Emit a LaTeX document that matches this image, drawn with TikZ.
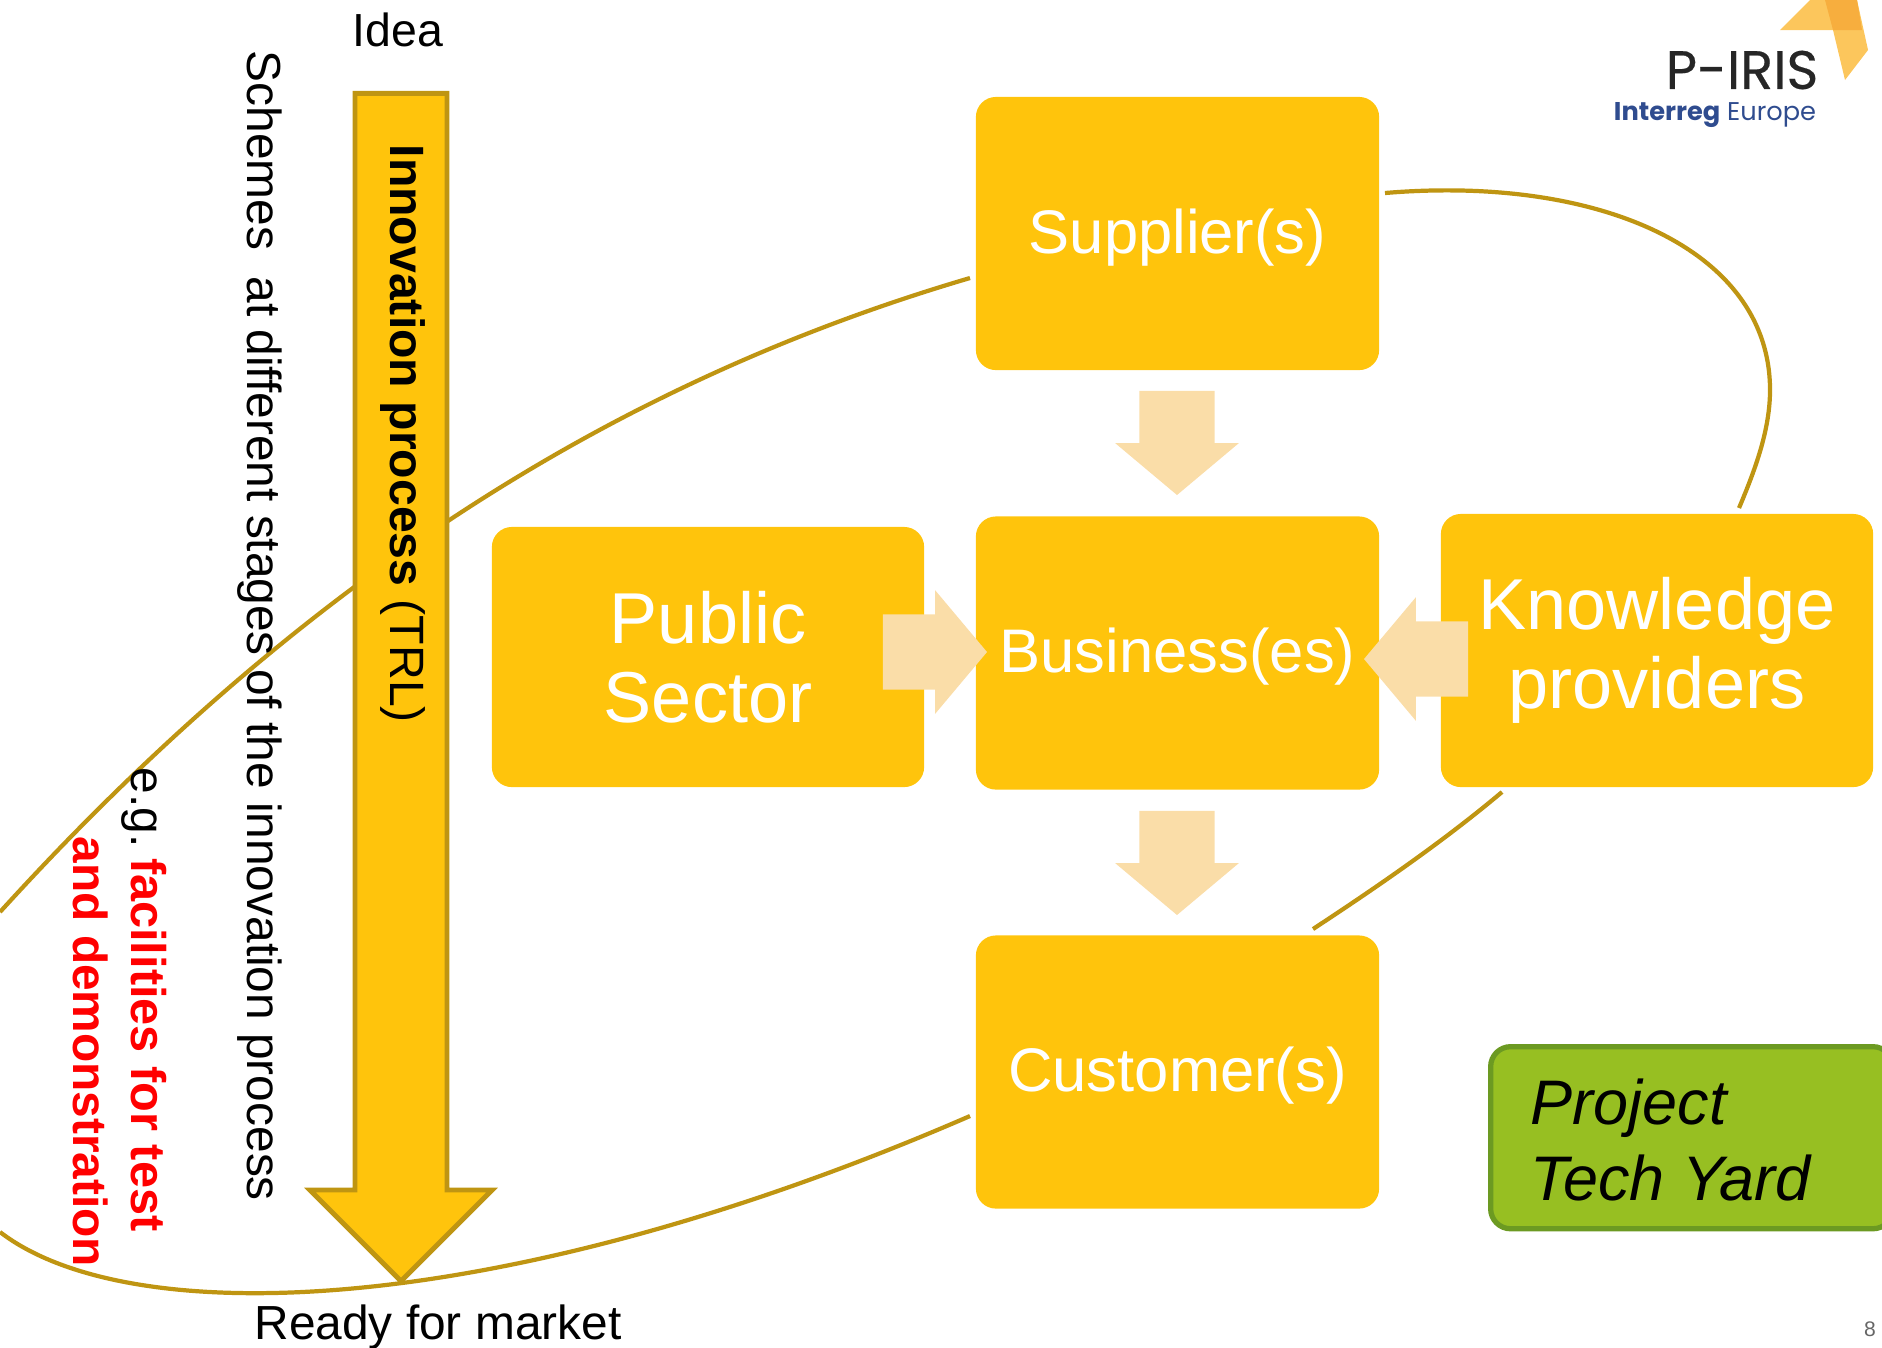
\documentclass[tikz,border=0pt]{standalone}
\usepackage{fontspec}
\setmainfont{Liberation Sans}
\newfontfamily\logofont{Poppins}
\newfontfamily\pirisfont[FakeBold=0.4]{Poppins}
\usetikzlibrary{shapes.arrows}
\definecolor{boxfill}{HTML}{FFC40C}
\definecolor{ovalline}{HTML}{BF9512}
\definecolor{flowfill}{HTML}{FADDA8}
\definecolor{yardfill}{HTML}{97BF22}
\definecolor{yardline}{HTML}{6C9A22}
\definecolor{logodark}{HTML}{F7AE3E}
\definecolor{logolight}{HTML}{FCC65C}
\definecolor{logoblue}{HTML}{2F4C8F}
\begin{document}
\begin{tikzpicture}[x=0.01cm,y=-0.01cm,
    box/.style={fill=boxfill,rounded corners=0.2cm,text=white,align=center,
      minimum width=4.03cm,minimum height=2.73cm,inner sep=0pt,
      font=\fontsize{17.5}{20}\selectfont},
    onebox/.style={box,text height=14.8pt,text depth=3.7pt},
    widebox/.style={box,minimum width=4.32cm,
      font=\fontsize{20.5}{22.5}\selectfont},
    flow/.style={single arrow,fill=flowfill,inner xsep=0pt,inner ysep=0.37cm,outer sep=0pt,
      minimum height=1.04cm,single arrow tip angle=100,
      single arrow head extend=0.24cm,anchor=tip},
    oval/.style={draw=ovalline,line width=1.2pt},
    label/.style={font=\fontsize{13.6}{16}\selectfont,inner sep=0pt},
    sidetext/.style={label,rotate=-90,anchor=base west}]
    \clip (0,0) rectangle (1882,1347);
    \coordinate (o1) at (970,278);
    \coordinate (o2) at (0,912);
    \coordinate (o3) at (0,1232);
    \coordinate (o4) at (970,1116);
    \coordinate (o5) at (1313,929);
    \coordinate (o6) at (1502,792);
    \coordinate (o7) at (1739,508);
    \coordinate (o8) at (1770,390);
    \coordinate (o9) at (1385,193);
    \draw[oval] (o1) .. controls (640,375) and (320,560) .. (o2);
    \draw[oval] (o3) .. controls (130,1332) and (500,1320) .. (o4);
    \draw[oval] (o5) .. controls (1380,885) and (1445,840) .. (o6);
    \draw[oval] (o9) .. controls (1600,175) and (1770,250) .. (o8)
      .. controls (1770,430) and (1755,470) .. (o7);
    \node[onebox] (supplier) at (1177.5,233.5) {Supplier(s)};
    \node[onebox] (business) at (1177.5,653) {Business(es)};
    \node[onebox] (customer) at (1177.5,1072) {Customer(s)};
    \node[widebox,minimum height=2.6cm] (public) at (708,657) {Public\\Sector};
    \node[widebox] (knowledge) at (1657,650.5) {Knowledge\\providers};
    \node[flow,rotate=270] (flow1) at (1177,495) {};
    \node[flow,rotate=270] (flow2) at (1177,915) {};
    \node[flow] (flow3) at (987,652) {};
    \node[flow,rotate=180] (flow4) at (1364,659) {};
    \node[single arrow,draw=ovalline,fill=boxfill,line width=1.4pt,inner xsep=0pt,
      inner ysep=0.435cm,outer sep=0pt,rotate=270,anchor=tip,
      minimum height=11.87cm,single arrow head extend=0.45cm,
      single arrow tip angle=90] (trl) at (401,1281) {};
    \node[label,font=\fontsize{13.2}{16}\selectfont] (idea) at (398,30) {Idea};
    \node[label] (ready) at (438,1327) {Ready for market};
    \node[sidetext] (schemes) at (247,50) {Schemes\ \ at different stages of the innovation process};
    \node[sidetext,font=\fontsize{13.7}{16}\selectfont] (process) at (390,144) {\textbf{Innovation process} (TRL)};
    \node[sidetext] (facilities) at (131,767) {e.g.\hspace{3pt}\textcolor{red}{\fontsize{13.85}{16}\selectfont\textbf{facilities for test}}};
    \node[sidetext,text=red,font=\fontsize{13.6}{16}\bfseries] (demo) at (73,836) {and demonstration};
    \node[draw=yardline,fill=yardfill,line width=1.5pt,rounded corners=0.2cm,
      minimum width=4.02cm,minimum height=1.82cm,anchor=north west] (yard) at (1488,1044) {};
    \node[anchor=west,align=left,inner sep=0pt,
      font=\fontsize{17.9}{21.5}\itshape] (yardtext) at (1530,1140) {Project\\Tech Yard};
    \fill[logolight] (1780,30) -- (1810,0) -- (1857,0) -- (1868,50) -- (1845,80) -- (1833,30) -- cycle;
    \fill[logodark] (1825,0) -- (1857,0) -- (1862,30) -- (1833,30) -- cycle;
    \node[inner sep=0pt,font=\pirisfont\fontsize{15.4}{16}\selectfont,text=black!85] (piris) at (1742,70) {P-IRIS};
    \node[inner sep=0pt,font=\logofont\fontsize{7.3}{9}\selectfont,text=logoblue] (interreg) at (1715,115) {\textbf{Interreg} Europe};
    \node[inner sep=0pt,font=\fontsize{6}{7}\selectfont,text=black!60] (pagenum) at (1870,1329) {8};
\end{tikzpicture}
\end{document}
